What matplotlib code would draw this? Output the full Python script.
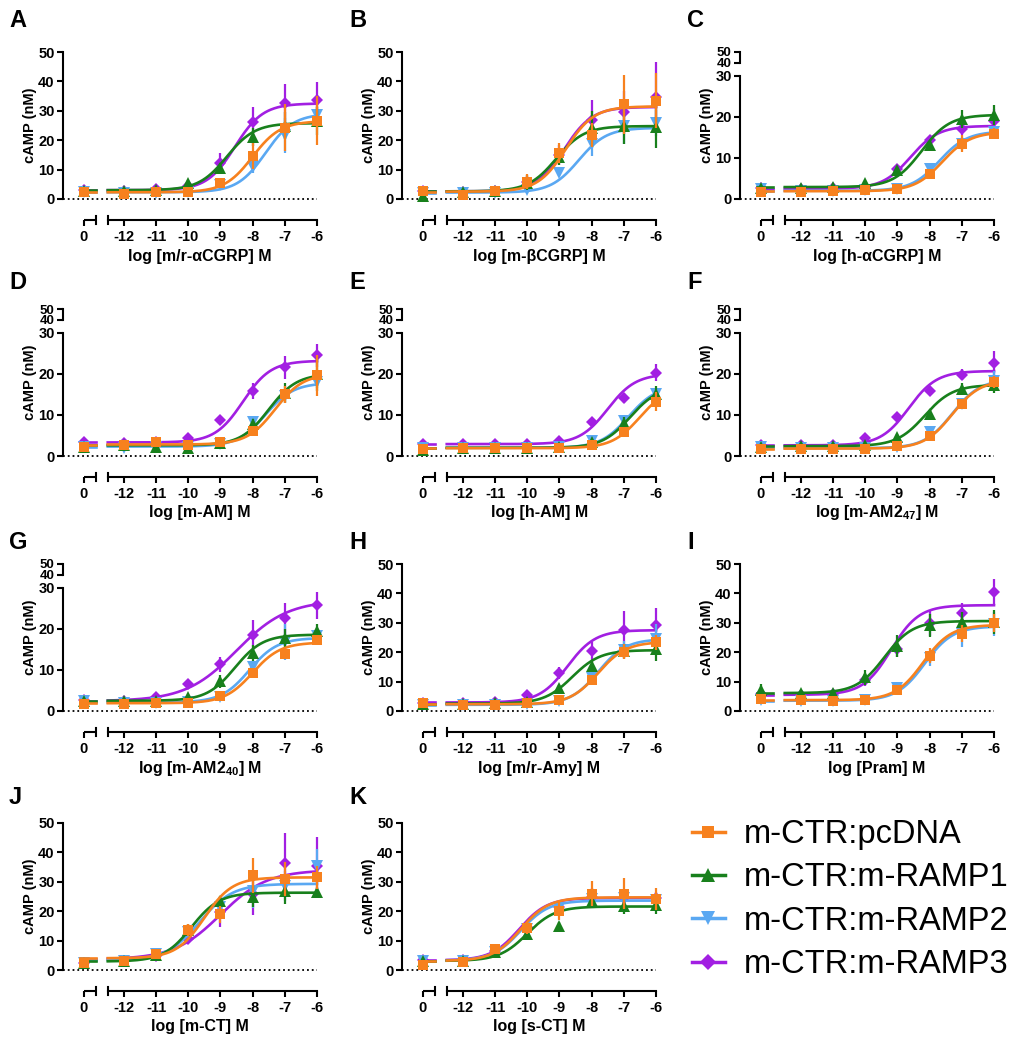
import numpy as np
import matplotlib
matplotlib.use('Agg')
import matplotlib.pyplot as plt
import matplotlib.transforms as mtransforms
from matplotlib.lines import Line2D

plt.rcParams['font.family'] = ['Liberation Sans', 'DejaVu Sans']
plt.rcParams['mathtext.fontset'] = 'custom'
plt.rcParams['mathtext.rm'] = 'Liberation Sans'
plt.rcParams['mathtext.bf'] = 'Liberation Sans:bold'

# series, in legend order
series = ['m-CTR:pcDNA', 'm-CTR:m-RAMP1', 'm-CTR:m-RAMP2', 'm-CTR:m-RAMP3']
colors = ['#F7811E', '#18801C', '#5AA8F2', '#A21FE2']
markers = ['s', '^', 'v', 'D']
msizes = [7.5, 8, 8, 6.5]

# log concentrations; first value of every row is the vehicle ("0") point
log_conc = [-12, -11, -10, -9, -8, -7, -6]
tick_text = ['-12', '-11', '-10', '-9', '-8', '-7', '-6']

# mean / SEM rows: pcDNA, RAMP1, RAMP2, RAMP3 ; columns: 0, -12 ... -6
# fit rows: bottom, top, logEC50, hill
A_mean = [[2.5, 1.7, 2.3, 2.5, 5.3, 14.7, 24.2, 26.6],
          [2.8, 2.8, 3.0, 5.6, 10.7, 21.0, 25.0, 26.5],
          [2.5, 2.0, 2.2, 2.5, 4.7, 11.0, 21.7, 28.5],
          [3.0, 2.8, 3.3, 4.5, 12.1, 26.2, 32.5, 33.6]]
A_sem = [[0.5, 0.4, 0.4, 0.5, 0.8, 4.5, 8.0, 8.4],
         [0.4, 0.4, 0.5, 0.8, 1.5, 3.0, 4.5, 4.7],
         [0.4, 0.3, 0.4, 0.4, 0.8, 2.0, 6.0, 3.0],
         [0.4, 0.4, 0.5, 0.8, 3.5, 5.0, 6.5, 6.2]]
A_fit = [[2.3, 26.5, -8.0, 1], [3.0, 25.8, -8.8, 1], [2.3, 29.0, -7.6, 1], [3.0, 32.5, -8.55, 1]]

B_mean = [[2.6, 1.3, 2.8, 5.9, 15.7, 21.7, 32.2, 33.4],
          [1.0, 2.5, 2.8, 5.5, 14.4, 24.0, 24.8, 24.5],
          [2.2, 2.0, 2.0, 3.0, 8.7, 18.7, 24.8, 25.9],
          [2.6, 2.4, 2.8, 5.9, 15.0, 26.8, 29.6, 34.7]]
B_sem = [[0.5, 0.4, 0.5, 2.5, 3.5, 4.0, 10.0, 9.4],
         [0.4, 0.4, 0.5, 2.5, 3.0, 6.0, 6.0, 7.0],
         [0.3, 0.3, 0.4, 0.5, 1.0, 4.0, 6.0, 4.5],
         [0.4, 0.4, 0.5, 2.0, 3.5, 7.0, 7.0, 12.0]]
B_fit = [[2.5, 31.5, -8.8, 1], [2.6, 24.8, -9.1, 1], [2.2, 24.2, -8.4, 1], [2.6, 31.3, -8.85, 1]]

C_mean = [[1.6, 1.8, 2.0, 2.1, 2.4, 6.0, 13.5, 15.9],
          [2.8, 2.7, 2.9, 3.8, 7.0, 13.1, 19.5, 20.5],
          [2.4, 2.0, 2.0, 2.2, 2.5, 7.4, 13.5, 16.3],
          [2.6, 2.4, 2.6, 3.0, 7.4, 14.4, 17.0, 19.0]]
C_sem = [[0.4, 0.3, 0.3, 0.3, 0.4, 0.8, 2.0, 1.3],
         [0.3, 0.3, 0.3, 0.5, 1.0, 1.0, 2.2, 2.5],
         [0.3, 0.3, 0.3, 0.3, 0.3, 0.8, 1.5, 1.5],
         [0.3, 0.3, 0.3, 0.4, 0.8, 0.8, 1.5, 2.8]]
C_fit = [[1.9, 16.3, -7.6, 1], [2.9, 20.5, -8.25, 1], [2.0, 16.5, -7.7, 1], [2.5, 17.8, -8.6, 1]]

D_mean = [[2.25, 2.8, 3.4, 2.8, 3.3, 6.1, 15.0, 19.7],
          [2.3, 2.6, 2.1, 2.0, 3.2, 7.7, 15.3, 20.0],
          [2.3, 2.0, 2.3, 2.3, 3.0, 8.3, 14.7, 18.0],
          [3.3, 3.2, 3.3, 4.3, 8.7, 15.8, 21.6, 24.5]]
D_sem = [[0.4, 0.4, 0.4, 0.4, 0.4, 0.8, 2.0, 5.0],
         [0.4, 0.4, 0.4, 0.5, 0.4, 1.3, 2.5, 4.2],
         [0.3, 0.3, 0.3, 0.3, 0.3, 0.8, 1.5, 1.5],
         [0.3, 0.3, 0.3, 0.5, 0.5, 2.0, 2.8, 2.8]]
D_fit = [[2.8, 20.0, -7.3, 1], [2.6, 20.0, -7.5, 1], [2.3, 17.8, -7.6, 1], [3.3, 23.2, -8.3, 1]]

E_mean = [[1.8, 1.9, 1.9, 1.9, 1.9, 2.6, 5.8, 13.2],
          [1.5, 2.0, 2.0, 2.0, 2.1, 3.3, 8.0, 15.0],
          [2.0, 2.0, 2.0, 2.0, 2.2, 3.6, 8.5, 15.2],
          [2.9, 2.9, 2.9, 2.9, 3.7, 8.4, 14.2, 20.3]]
E_sem = [[0.3, 0.3, 0.3, 0.3, 0.3, 0.4, 0.6, 2.3],
         [0.3, 0.3, 0.3, 0.3, 0.3, 0.5, 1.5, 2.0],
         [0.3, 0.3, 0.3, 0.3, 0.3, 0.6, 1.0, 1.0],
         [0.3, 0.3, 0.3, 0.3, 0.4, 0.6, 1.2, 2.0]]
E_fit = [[1.9, 17.0, -6.5, 1], [2.0, 17.0, -6.8, 1], [2.0, 17.2, -6.85, 1], [2.9, 20.0, -7.5, 1]]

F_mean = [[1.8, 1.8, 1.8, 1.8, 2.4, 4.8, 12.6, 18.0],
          [2.3, 2.4, 2.4, 2.6, 4.7, 10.2, 16.4, 17.2],
          [2.2, 2.0, 2.0, 1.9, 2.3, 5.8, 12.7, 18.3],
          [2.6, 2.6, 2.7, 4.4, 9.5, 15.9, 19.8, 22.6]]
F_sem = [[0.3, 0.3, 0.3, 0.3, 0.3, 0.8, 1.0, 1.5],
         [0.3, 0.3, 0.3, 0.3, 0.6, 1.3, 1.5, 1.8],
         [0.3, 0.3, 0.3, 0.3, 0.3, 0.6, 1.0, 2.5],
         [0.3, 0.3, 0.3, 0.5, 0.5, 0.5, 1.3, 3.0]]
F_fit = [[1.8, 18.5, -7.3, 1], [2.4, 17.3, -8.15, 1], [1.9, 18.7, -7.3, 1], [2.6, 20.7, -8.65, 1]]

G_mean = [[1.7, 1.8, 1.9, 2.0, 3.7, 9.2, 13.8, 17.2],
          [2.5, 2.4, 2.5, 3.4, 7.2, 14.1, 17.8, 19.4],
          [2.5, 2.0, 2.0, 2.2, 3.3, 10.6, 16.8, 18.2],
          [2.6, 2.5, 3.4, 6.5, 11.4, 18.6, 22.6, 25.7]]
G_sem = [[0.4, 0.4, 0.4, 0.4, 0.5, 1.0, 1.0, 1.0],
         [0.3, 0.3, 0.3, 0.5, 1.5, 2.0, 2.2, 1.8],
         [0.3, 0.3, 0.3, 0.3, 0.4, 1.0, 4.5, 1.0],
         [0.3, 0.3, 0.3, 0.5, 1.8, 3.5, 3.8, 3.3]]
G_fit = [[1.9, 16.7, -8.0, 1], [2.5, 18.6, -8.55, 1], [2.1, 17.8, -8.1, 1], [2.4, 27.0, -8.5, 0.55]]

H_mean = [[2.6, 2.2, 2.0, 2.6, 3.7, 10.7, 20.2, 23.3],
          [2.3, 2.5, 2.7, 3.0, 7.9, 15.2, 20.4, 21.0],
          [2.2, 2.0, 2.0, 2.3, 3.5, 11.2, 20.8, 24.5],
          [2.8, 2.8, 3.1, 5.4, 12.9, 20.4, 27.5, 29.2]]
H_sem = [[0.4, 0.3, 0.3, 0.4, 0.5, 1.0, 2.5, 2.5],
         [0.3, 0.3, 0.3, 0.4, 1.0, 2.0, 2.5, 4.0],
         [0.3, 0.3, 0.3, 0.3, 0.5, 1.0, 3.0, 5.0],
         [0.3, 0.3, 0.3, 0.5, 2.0, 3.0, 6.5, 5.8]]
H_fit = [[2.3, 23.5, -7.8, 1], [2.5, 20.7, -8.6, 1], [2.1, 24.5, -7.8, 1], [2.9, 27.5, -8.75, 1]]

I_mean = [[4.1, 3.6, 3.5, 3.7, 7.3, 18.8, 26.3, 29.9],
          [7.3, 6.0, 6.2, 11.4, 22.0, 29.1, 30.2, 30.2],
          [3.6, 3.5, 3.5, 3.7, 7.8, 17.9, 26.3, 29.6],
          [5.9, 5.5, 5.8, 10.6, 21.2, 30.0, 33.2, 40.5]]
I_sem = [[0.5, 0.4, 0.4, 0.4, 1.0, 2.5, 3.0, 3.0],
         [1.8, 0.5, 0.5, 2.5, 3.8, 4.0, 3.5, 4.0],
         [0.4, 0.4, 0.4, 0.4, 1.0, 2.5, 4.5, 4.0],
         [0.5, 0.5, 0.5, 2.0, 3.0, 4.5, 3.5, 4.5]]
I_fit = [[3.7, 29.3, -8.2, 1], [6.1, 30.6, -9.4, 1], [3.5, 28.8, -8.15, 1], [5.5, 36.0, -9.2, 1]]

J_mean = [[2.5, 3.0, 5.4, 13.5, 18.9, 32.2, 30.9, 31.5],
          [2.5, 3.0, 5.0, 13.7, 23.6, 25.0, 27.0, 26.6],
          [2.3, 3.0, 5.6, 12.9, 21.3, 27.0, 28.6, 35.4],
          [2.5, 3.0, 4.8, 10.7, 19.7, 25.8, 36.5, 35.5]]
J_sem = [[0.5, 0.5, 0.6, 2.0, 3.0, 6.0, 5.8, 4.0],
         [0.4, 0.4, 0.5, 2.0, 1.5, 3.5, 4.5, 1.5],
         [0.4, 0.4, 0.6, 1.5, 3.5, 6.0, 5.0, 5.8],
         [0.4, 0.4, 0.6, 1.5, 5.0, 7.0, 10.0, 9.7]]
J_fit = [[4.0, 31.5, -9.5, 1], [2.9, 26.3, -9.9, 1], [3.3, 29.3, -9.65, 0.85], [3.6, 34.0, -9.0, 0.6]]

K_mean = [[1.7, 2.8, 7.0, 14.4, 20.0, 26.0, 26.0, 24.2],
          [3.0, 3.1, 6.0, 12.1, 14.9, 23.6, 21.9, 22.0],
          [3.2, 3.1, 6.0, 13.8, 21.0, 24.0, 24.5, 23.7],
          [3.4, 3.3, 6.5, 14.6, 21.5, 25.0, 24.5, 24.4]]
K_sem = [[0.4, 0.4, 1.0, 2.0, 3.0, 4.3, 5.3, 3.8],
         [0.3, 0.3, 0.5, 1.0, 1.5, 2.0, 3.0, 3.0],
         [0.3, 0.3, 0.5, 1.0, 1.5, 2.0, 2.0, 2.5],
         [0.3, 0.3, 0.5, 1.0, 1.5, 3.0, 2.0, 2.0]]
K_fit = [[3.1, 24.7, -10.2, 1], [3.1, 21.6, -10.0, 1], [3.2, 23.6, -10.2, 1], [3.3, 24.5, -10.25, 1]]

# letter, x label, data, broken y axis
panels = [
    ('A', 'log [m/r-αCGRP] M', A_mean, A_sem, A_fit, False),
    ('B', 'log [m-βCGRP] M', B_mean, B_sem, B_fit, False),
    ('C', 'log [h-αCGRP] M', C_mean, C_sem, C_fit, True),
    ('D', 'log [m-AM] M', D_mean, D_sem, D_fit, True),
    ('E', 'log [h-AM] M', E_mean, E_sem, E_fit, True),
    ('F', r'log [m-AM2$_{\mathbf{47}}$] M', F_mean, F_sem, F_fit, True),
    ('G', r'log [m-AM2$_{\mathbf{40}}$] M', G_mean, G_sem, G_fit, True),
    ('H', 'log [m/r-Amy] M', H_mean, H_sem, H_fit, False),
    ('I', 'log [Pram] M', I_mean, I_sem, I_fit, False),
    ('J', 'log [m-CT] M', J_mean, J_sem, J_fit, False),
    ('K', 'log [s-CT] M', K_mean, K_sem, K_fit, False),
]

# layout in pixels
W, H = 1025, 1050
row_zero = [199, 456, 711, 970]
row_letter = [9, 271, 531, 786]
col_x = [63, 402, 740]
col_letter = [9, 349, 687]
AX_W, AX_H = 254, 147
X_LEFT = -13.89     # axis left edge (log units)
X_VEH = -13.24      # where the vehicle point sits
X_AX = -21 / AX_H   # x-axis line below zero, axes fraction

fig = plt.figure(figsize=(W / 100, H / 100), dpi=100)


def hill(x, bottom, top, logec, h):
    return bottom + (top - bottom) / (1 + 10 ** ((logec - x) * h))


for i, (letter, xlab, mean, sem, fit, broken) in enumerate(panels):
    r, c = divmod(i, 3)
    ax = fig.add_axes([col_x[c] / W, 1 - row_zero[r] / H, AX_W / W, AX_H / H])
    ymax = 50 if not broken else 35.8
    ax.set_xlim(X_LEFT, -6)
    ax.set_ylim(0, ymax)

    xs = np.linspace(-12.5, -6, 300)
    xpos = [X_VEH] + log_conc
    for k in [3, 2, 1, 0]:
        b, t, ec, hs = fit[k]
        z = 3 + (3 - k)
        ax.plot(xs, hill(xs, b, t, ec, hs), color=colors[k], lw=1.9, zorder=z, clip_on=False)
        ax.plot([X_VEH - 0.12, X_VEH + 0.37], [b, b], color=colors[k], lw=1.9, zorder=z)
        eb = ax.errorbar(xpos, mean[k], yerr=sem[k], fmt=markers[k], color=colors[k],
                         ms=msizes[k], mew=0, capsize=3.6, elinewidth=1.6, capthick=1.6, zorder=z)
        for a in eb.get_children():
            a.set_clip_on(False)

    ax.plot([X_LEFT, -6], [0, 0], ls=':', color='black', lw=1.3, zorder=1, clip_on=False)

    for s in ['top', 'right']:
        ax.spines[s].set_visible(False)
    ax.spines['left'].set_linewidth(1.5)
    ax.spines['bottom'].set_linewidth(1.5)
    ax.spines['bottom'].set_position(('axes', X_AX))
    ax.spines['bottom'].set_bounds(-12.5, -6)

    ax.set_xticks([X_VEH] + log_conc)
    ax.set_xticklabels(['0'] + tick_text, fontweight='bold')
    if broken:
        ax.spines['left'].set_bounds(0, 30)
        ax.set_yticks([0, 10, 20, 30, 33.2, 35.8])
        ax.set_yticklabels(['0', '10', '20', '30', '40', '50'], fontweight='bold')
        ax.plot([X_LEFT, X_LEFT], [33.2, 35.8], color='black', lw=1.5, clip_on=False,
                solid_capstyle='projecting')
    else:
        ax.spines['left'].set_bounds(0, 50)
        ax.set_yticks([0, 10, 20, 30, 40, 50])
        ax.set_yticklabels(['0', '10', '20', '30', '40', '50'], fontweight='bold')
    ax.tick_params(axis='both', width=1.5, length=4.5, labelsize=10.5)
    ax.tick_params(axis='y', pad=1.5)
    ax.tick_params(axis='x', pad=3)
    if broken:
        for tk in ax.yaxis.get_major_ticks()[4:]:
            tk.label1.set_fontsize(9.5)

    # vehicle segment of the x axis and end caps
    trans = mtransforms.blended_transform_factory(ax.transData, ax.transAxes)
    cap = 4 / AX_H
    ax.plot([X_VEH, X_VEH + 0.37], [X_AX, X_AX], color='black', lw=1.5, transform=trans,
            clip_on=False, solid_capstyle='butt')
    ax.plot([X_VEH + 0.37, X_VEH + 0.37], [X_AX + cap, X_AX - cap], color='black', lw=1.5,
            transform=trans, clip_on=False)
    ax.plot([-12.5, -12.5], [X_AX + cap, X_AX - cap], color='black', lw=1.5,
            transform=trans, clip_on=False)

    ax.text(0.54, -57 / AX_H, xlab, transform=ax.transAxes, ha='center', va='center',
            fontsize=11.5, fontweight='bold')
    ax.text(-33 / AX_W, 0.5, 'cAMP (nM)', transform=ax.transAxes, ha='center', va='center',
            rotation=90, fontsize=10.5, fontweight='bold')

    fig.text(col_letter[c] / W, 1 - row_letter[r] / H, letter, fontsize=17,
             fontweight='bold', ha='left', va='top')

handles = [Line2D([], [], color=colors[k], marker=markers[k], ms=msizes[k] + 1.5, mew=0, lw=2.5)
           for k in range(4)]
fig.legend(handles, series, loc='upper left', bbox_to_anchor=(692 / W, 1 - 819 / H),
           frameon=False, fontsize=23.5, handlelength=1.0, handletextpad=0.6,
           labelspacing=0.38, borderpad=0, borderaxespad=0)

fig.savefig('out.png', dpi=100)
